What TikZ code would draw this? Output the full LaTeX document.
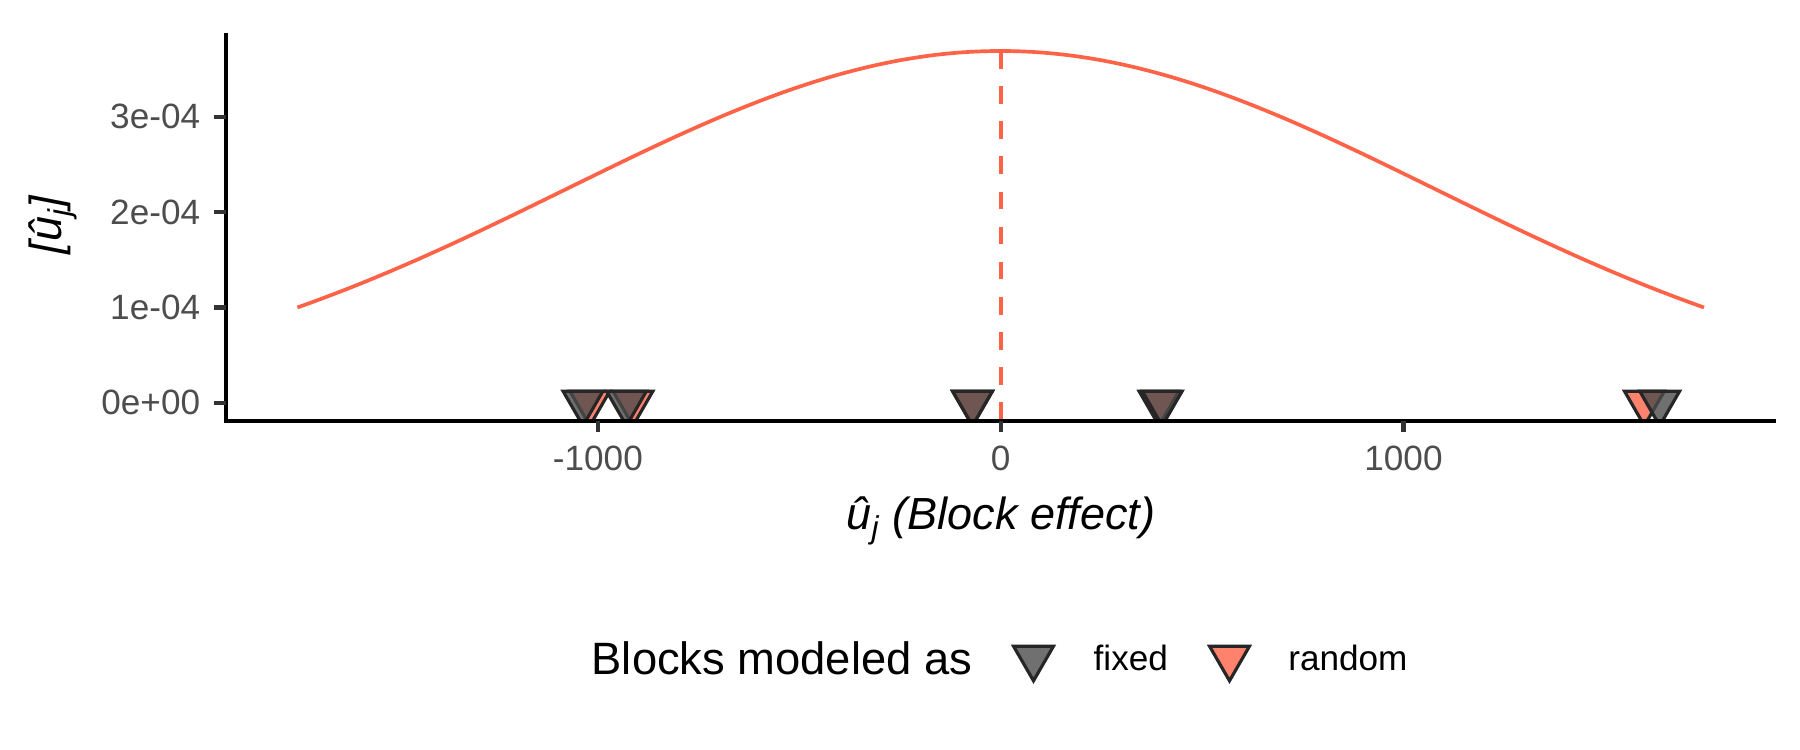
\documentclass[tikz,border=0pt]{standalone}
\usepackage{fontspec}
\setmainfont{Liberation Sans}
\usetikzlibrary{shapes.geometric}
\definecolor{tomato}{RGB}{255,99,71}
\definecolor{grey30}{RGB}{77,77,77}
\definecolor{grey20}{RGB}{51,51,51}

\begin{document}
\begin{tikzpicture}[
	curve/.style={tomato, line width=1.05pt},
	vline/.style={tomato, line width=1.05pt, dash pattern=on 5pt off 5pt},
	axisline/.style={black, line width=1.2pt},
	tick/.style={grey20, line width=1.2pt},
	ticklabel/.style={grey30, font=\fontsize{10}{12}\selectfont},
	axistitle/.style={font=\fontsize{12.8}{15}\selectfont\itshape},
	legtext/.style={font=\fontsize{10}{12}\selectfont, anchor=west, inner sep=0pt},
	fixedpt/.style={regular polygon, regular polygon sides=3, shape border rotate=180,
		minimum size=0.46cm, inner sep=0pt, draw=black!85, line width=0.9pt,
		fill=black!70, fill opacity=0.8},
	randompt/.style={fixedpt, fill=tomato}]

	\useasboundingbox (0,0) rectangle (18,7.5);

	% panel: density curve, mean line, block effects
	\begin{scope}[shift={(10.007cm,3.473cm)}, x=0.004033cm, y=0.953cm]
	\clip (-1923.4,-0.189) rectangle (1924,3.876);
	\draw[curve] plot[domain=-1746:1746, samples=120] (\x,{3.69*exp(-0.5*(\x/1080)^2)});
	\coordinate (peak) at (0,3.69);
	\coordinate (base) at (0,-0.189);
	\draw[vline] (peak) -- (base);

	\node[randompt] (r1) at (-1020,0) {};
	\node[randompt] (r2) at (-913,0) {};
	\node[randompt] (r3) at (-70,0) {};
	\node[randompt] (r4) at (393,0) {};
	\node[randompt] (r5) at (1598,0) {};

	\node[fixedpt] (f1) at (-1037,0) {};
	\node[fixedpt] (f2) at (-929,0) {};
	\node[fixedpt] (f3) at (-70,0) {};
	\node[fixedpt] (f4) at (401,0) {};
	\node[fixedpt] (f5) at (1636,0) {};
	\end{scope}

	% axes
	\begin{scope}[shift={(10.007cm,3.473cm)}, x=0.004033cm, y=0.953cm]
	\coordinate (ytop) at (-1923.4,3.876);
	\coordinate (origin) at (-1923.4,-0.189);
	\coordinate (xend) at (1924,-0.189);
	\draw[axisline] (ytop) -- (origin) -- (xend);

	\draw[tick] (-1923.4,0) -- ++(-0.12cm,0pt) node[ticklabel, left] (y0) {0e+00};
	\draw[tick] (-1923.4,1) -- ++(-0.12cm,0pt) node[ticklabel, left] (y1) {1e-04};
	\draw[tick] (-1923.4,2) -- ++(-0.12cm,0pt) node[ticklabel, left] (y2) {2e-04};
	\draw[tick] (-1923.4,3) -- ++(-0.12cm,0pt) node[ticklabel, left] (y3) {3e-04};

	\draw[tick] (-1000,-0.189) -- ++(0pt,-0.11cm) node[ticklabel, below] (xm1) {-1000};
	\draw[tick] (0,-0.189) -- ++(0pt,-0.11cm) node[ticklabel, below] (x0) {0};
	\draw[tick] (1000,-0.189) -- ++(0pt,-0.11cm) node[ticklabel, below] (x1) {1000};
	\end{scope}

	\node[axistitle, anchor=base] (xtitle) at (10.01,2.20) {û\textsubscript{j} (Block effect)};
	\node[axistitle, rotate=90] (ytitle) at (0.53,5.25) {[û\textsubscript{j}]};

	% legend
	\node[legtext, font=\fontsize{12.9}{15}\selectfont] (legtitle) at (5.91,0.92) {Blocks modeled as};
	\node[fixedpt] (legfixed) at (10.335,0.922) {};
	\node[legtext] (legfixedtxt) at (10.93,0.92) {fixed};
	\node[randompt] (legrandom) at (12.295,0.922) {};
	\node[legtext] (legrandomtxt) at (12.876,0.92) {random};

\end{tikzpicture}
\end{document}
